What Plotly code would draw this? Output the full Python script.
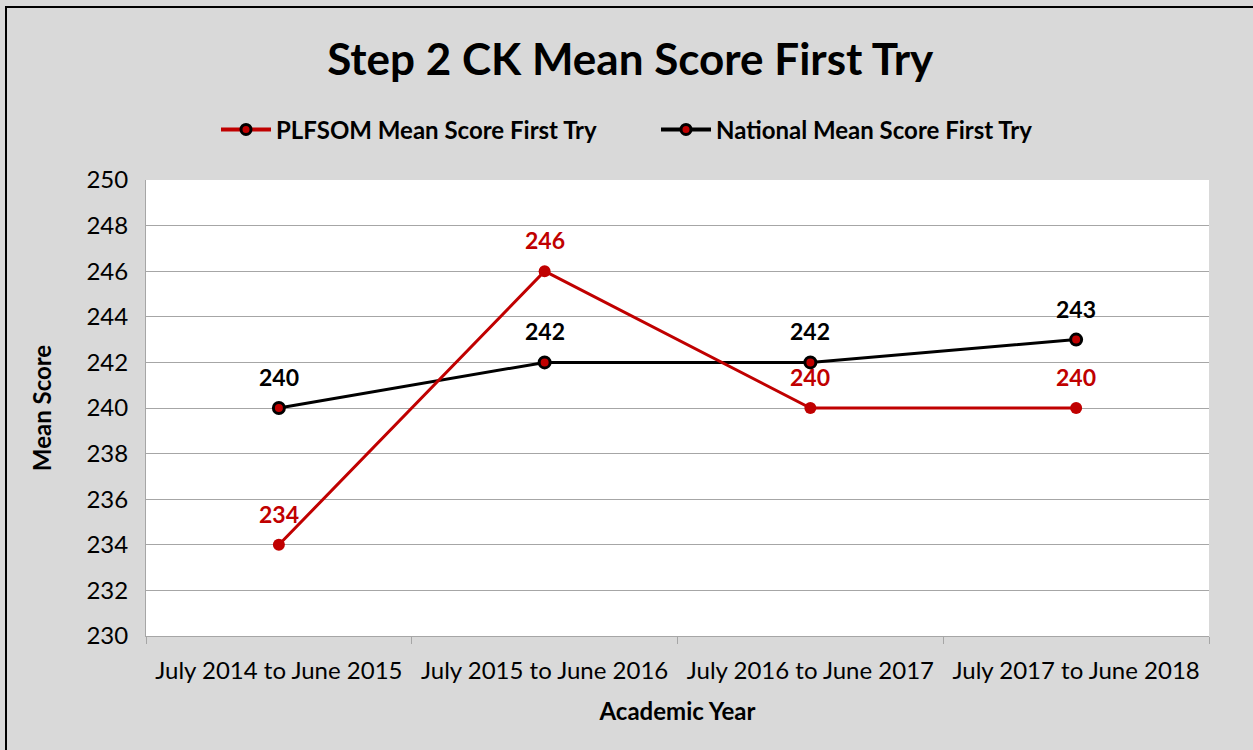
import plotly.graph_objects as go

categories = ["July 2014 to June 2015", "July 2015 to June 2016",
              "July 2016 to June 2017", "July 2017 to June 2018"]
plfsom = [234, 246, 240, 240]
national = [240, 242, 242, 243]
y_ticks = [230, 232, 234, 236, 238, 240, 242, 244, 246, 248, 250]

RED = "#c00000"
FONT = "Lato"

fig = go.Figure()
fig.add_trace(go.Scatter(
    x=categories, y=national, mode="lines+markers",
    line=dict(color="black", width=3),
    marker=dict(size=11, color=RED, line=dict(color="black", width=3)),
    showlegend=False, cliponaxis=False))
fig.add_trace(go.Scatter(
    x=categories, y=plfsom, mode="lines+markers",
    line=dict(color=RED, width=3),
    marker=dict(size=12, color=RED),
    showlegend=False, cliponaxis=False))
# legend entries
fig.add_trace(go.Scatter(
    x=[None], y=[None], mode="lines+markers", name="PLFSOM Mean Score First Try",
    line=dict(color=RED, width=4),
    marker=dict(size=10, color=RED, line=dict(color="black", width=3))))
fig.add_trace(go.Scatter(
    x=[None], y=[None], mode="lines+markers", name="National Mean Score First Try",
    line=dict(color="black", width=4),
    marker=dict(size=10, color=RED, line=dict(color="black", width=3))))

annotations = []
for cat, v in zip(categories, national):
    annotations.append(dict(x=cat, y=v, text=f"<b>{v}</b>", showarrow=False,
                            yshift=31, font=dict(family=FONT, size=23, color="black")))
for cat, v in zip(categories, plfsom):
    annotations.append(dict(x=cat, y=v, text=f"<b>{v}</b>", showarrow=False,
                            yshift=31, font=dict(family=FONT, size=23, color=RED)))

fig.update_layout(
    width=1253, height=750,
    margin=dict(l=146, r=44, t=180, b=114),
    paper_bgcolor="#d9d9d9", plot_bgcolor="white",
    font=dict(family=FONT, color="black", size=24),
    title=dict(text="<b>Step 2 CK Mean Score First Try</b>", x=0.503, xanchor="center",
               y=0.92, yanchor="middle", font=dict(family=FONT, size=44, color="black")),
    legend=dict(orientation="h", x=(216 - 146) / 1063, xanchor="left", y=1.11, yanchor="middle",
                font=dict(family=FONT, size=24, color="black", weight="bold"),
                bgcolor="rgba(0,0,0,0)", itemwidth=50,
                entrywidth=375, entrywidthmode="pixels"),
    showlegend=True,
    annotations=annotations,
)
fig.update_xaxes(
    type="category", range=[-0.5, 3.5], tickson="boundaries",
    showline=True, linecolor="#a6a6a6", linewidth=1,
    ticks="outside", ticklen=7, tickcolor="#a6a6a6",
    showgrid=False, tickfont=dict(family=FONT, size=24), ticklabelstandoff=13,
    title=dict(text="<b>Academic Year</b>", font=dict(family=FONT, size=24), standoff=20),
)
fig.update_yaxes(
    range=[230, 250], tickvals=y_ticks, showgrid=True, gridcolor="#a6a6a6", gridwidth=1,
    showline=True, linecolor="#a6a6a6", linewidth=1, ticks="", zeroline=False,
    tickfont=dict(family=FONT, size=24), ticklabelstandoff=12,
    title=dict(text="<b>Mean Score</b>", font=dict(family=FONT, size=24), standoff=28),
)
fig.add_shape(type="rect", xref="paper", yref="paper",
              x0=(6 - 146) / 1063, x1=(1300 - 146) / 1063,
              y0=(636 - 800) / 456, y1=(636 - 7) / 456,
              line=dict(color="black", width=2), layer="above")

fig.write_html("out.html", config={"displayModeBar": False},
               post_script="document.body.style.margin='0';document.body.style.padding='0';")
